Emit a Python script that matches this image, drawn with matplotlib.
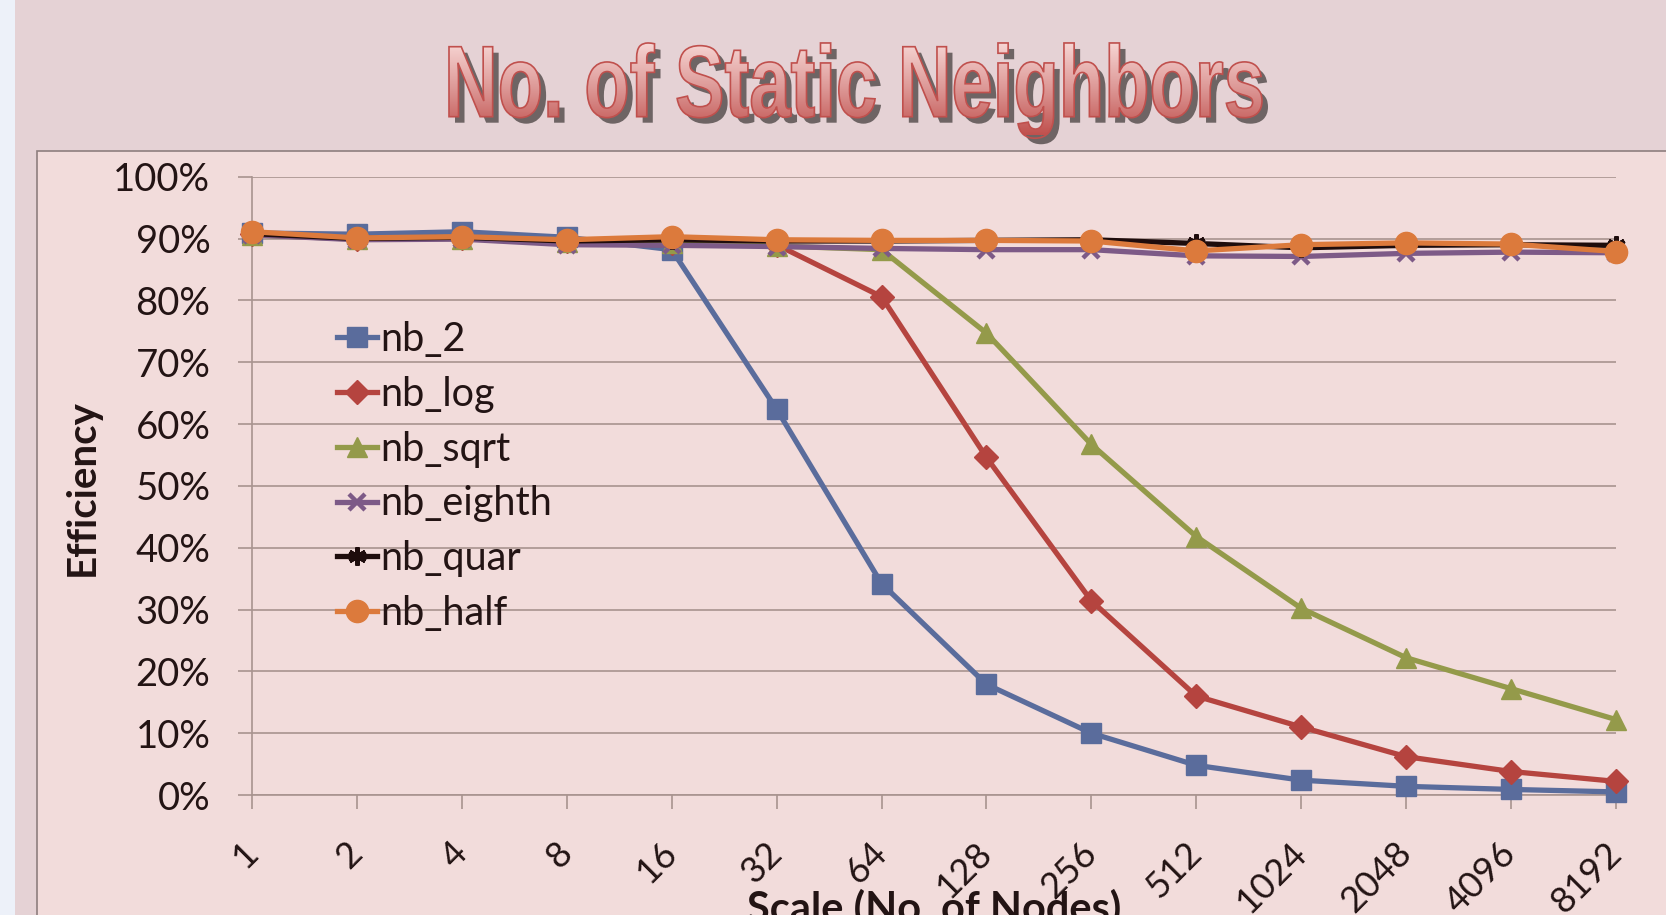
import matplotlib
matplotlib.use('Agg')
import matplotlib.pyplot as plt
import numpy as np
from matplotlib.textpath import TextPath
from matplotlib.font_manager import FontProperties
from matplotlib.patches import PathPatch, Rectangle
from matplotlib.transforms import Affine2D
from matplotlib.colors import LinearSegmentedColormap
from matplotlib.ticker import PercentFormatter

# ---------------------------------------------------------
# Data (efficiency in %)
# ---------------------------------------------------------
scale_labels = ['1', '2', '4', '8', '16', '32', '64', '128', '256',
                '512', '1024', '2048', '4096', '8192']
nb_2 = [90.9, 90.7, 91.1, 90.2, 88.2, 62.4, 34.2, 17.9, 10.0, 4.8, 2.4, 1.4, 0.9, 0.5]
nb_log = [90.7, 90.0, 90.1, 89.6, 89.2, 89.0, 80.6, 54.6, 31.4, 16.0, 11.0, 6.2, 3.8, 2.2]
nb_sqrt = [90.6, 89.9, 90.0, 89.4, 89.3, 88.8, 88.2, 74.7, 56.7, 41.8, 30.2, 22.2, 17.2, 12.2]
nb_eighth = [90.6, 89.8, 89.9, 89.0, 88.9, 88.7, 88.4, 88.2, 88.2, 87.2, 87.1, 87.6, 87.8, 87.7]
nb_quar = [90.8, 90.0, 90.2, 89.6, 89.8, 89.6, 89.6, 89.7, 89.8, 89.2, 88.5, 88.9, 89.0, 88.9]
nb_half = [91.1, 90.1, 90.3, 89.8, 90.3, 89.8, 89.7, 89.7, 89.6, 88.0, 89.0, 89.3, 89.1, 87.9]

series = [
    ('nb_2', nb_2, '#5A6C9C', 's', 15),
    ('nb_log', nb_log, '#B5443F', 'D', 12),
    ('nb_sqrt', nb_sqrt, '#949A4A', '^', 15),
    ('nb_eighth', nb_eighth, '#7D5A87', 'x', 12),
    ('nb_quar', nb_quar, '#1E0C0C', (6, 2, 0), 13),
    ('nb_half', nb_half, '#DC7A3C', 'o', 16),
]

W, H = 1666, 915
GRID = '#A8938F'
TXT = '#231414'

fig = plt.figure(figsize=(W / 100, H / 100), dpi=100)
fig.patch.set_facecolor('#E5D2D5')

# pixel canvas for the background pieces and the title
bg = fig.add_axes([0, 0, 1, 1], zorder=0)
bg.axis('off')
bg.add_patch(Rectangle((0, 0), 15, H, facecolor='#EDF1F9', edgecolor='none'))
bg.add_patch(Rectangle((37, 150.5), W, H, facecolor='#F2DCDB',
                       edgecolor='#8E7E7E', linewidth=1.2))

# --- title: stretched bold text with gradient fill, outline and shadow ---
title = 'No. of Static Neighbors'
fp = FontProperties(family='Liberation Sans', weight='bold')
tp = TextPath((0, 0), title, size=100, prop=fp)
ext = tp.get_extents()
cap = TextPath((0, 0), 'N', size=100, prop=fp).get_extents().y1
x0, x1, base, cap_px = 449, 1262, 116.7, 70
tr = Affine2D().translate(-ext.x0, 0).scale((x1 - x0) / ext.width, -cap_px / cap).translate(x0, base)
tpath = tr.transform_path(tp)

shadow = PathPatch(Affine2D().translate(6, 6).transform_path(tpath),
                   facecolor='#6E6464', edgecolor='none', zorder=1)
bg.add_patch(shadow)
grad_cmap = LinearSegmentedColormap.from_list('g', ['#F6D4D2', '#DC9694', '#C0504D'])
grad = np.linspace(0, 1, 256)[:, None]
im = bg.imshow(grad, cmap=grad_cmap, extent=(430, 1280, 135, 44),
               aspect='auto', zorder=2, interpolation='bilinear')
outline = PathPatch(tpath, facecolor='none', edgecolor='#C0504D', linewidth=1.2, zorder=3)
bg.add_patch(outline)
im.set_clip_path(outline)
bg.set_xlim(0, W)
bg.set_ylim(H, 0)

# ---------------------------------------------------------
# Main plot
# ---------------------------------------------------------
ax = fig.add_axes([252 / W, 1 - 795 / H, (1616 - 252) / W, (795 - 176.7) / H], zorder=2)
ax.patch.set_alpha(0)
x = np.arange(len(scale_labels))

for name, vals, color, marker, ms in series:
    ax.plot(x, vals, color=color, linewidth=3.8, marker=marker, markersize=ms,
            markerfacecolor=color, markeredgecolor=color,
            markeredgewidth=3.2 if marker in ('x', (6, 2, 0)) else 1,
            label=name, clip_on=False, zorder=3)

ax.set_xlim(0, len(scale_labels) - 1)
ax.set_ylim(0, 100)
ax.set_yticks(range(0, 101, 10))
ax.yaxis.set_major_formatter(PercentFormatter(decimals=0))
ax.set_xticks(x)
ax.set_xticklabels(scale_labels)

ax.yaxis.grid(True, color=GRID, linewidth=1.2)
ax.set_axisbelow(True)
for s in ('top', 'right'):
    ax.spines[s].set_visible(False)
for s in ('left', 'bottom'):
    ax.spines[s].set_color(GRID)
    ax.spines[s].set_linewidth(1.2)

ax.tick_params(axis='y', length=10, width=1.2, color=GRID, pad=20,
               labelsize=27.5, labelcolor=TXT, labelfontfamily='Lato')
ax.tick_params(axis='x', length=10, width=1.2, color=GRID, pad=28,
               labelsize=26, labelcolor=TXT, labelfontfamily='Lato')
for lbl in ax.get_xticklabels():
    lbl.set_rotation(45)
    lbl.set_ha('right')
    lbl.set_va('center')
    lbl.set_rotation_mode('anchor')

fig.text(82 / W, 1 - 488 / H, 'Efficiency', rotation=90, ha='center', va='center',
         fontsize=29, fontweight='bold', color=TXT, family='Lato')
fig.text(934 / W, 1 - 888 / H, 'Scale (No. of Nodes)', ha='center', va='top',
         fontsize=30, fontweight='bold', color=TXT, family='Lato')

leg = ax.legend(loc='upper left', bbox_to_anchor=(337 / W, 1 - 321 / H),
                bbox_transform=fig.transFigure, frameon=False, borderpad=0,
                borderaxespad=0, handlelength=1.0, handletextpad=0.1,
                labelspacing=0.45, prop={'family': 'Lato', 'size': 28.5})
for t in leg.get_texts():
    t.set_color(TXT)

fig.savefig('out.png', dpi=100, facecolor=fig.get_facecolor())
